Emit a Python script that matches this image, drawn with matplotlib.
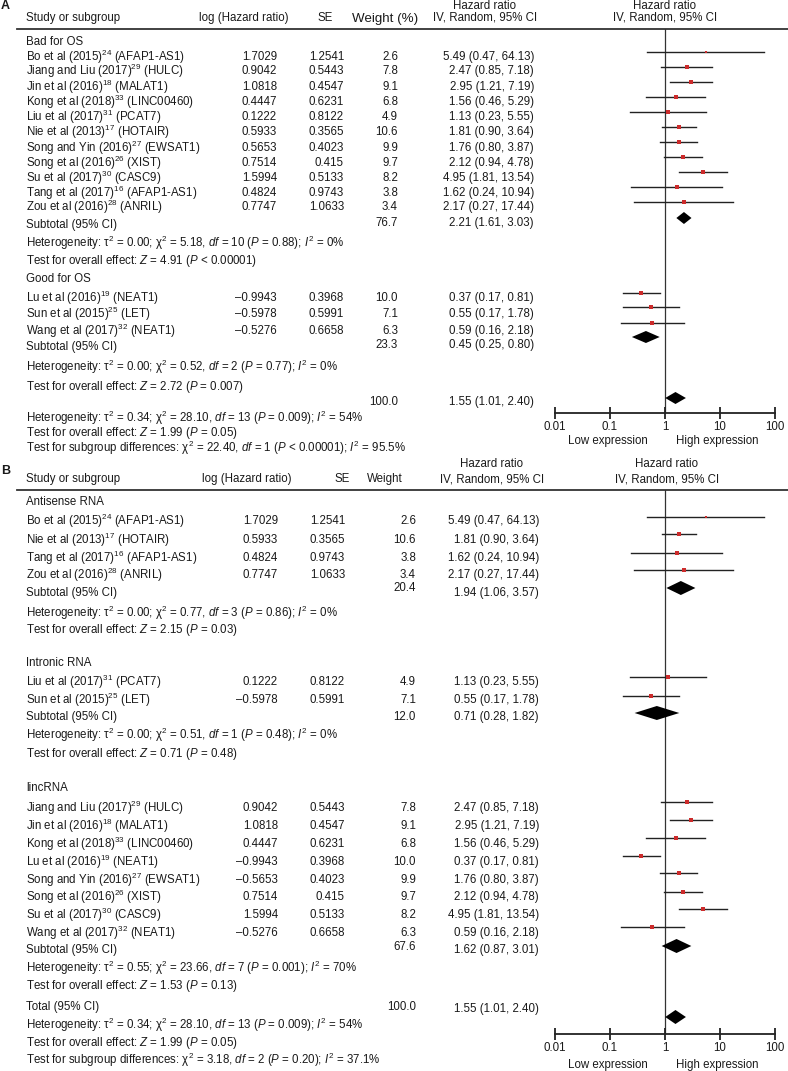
import matplotlib
matplotlib.use('Agg')
import matplotlib.pyplot as plt

plt.rcParams['font.family'] = ['Liberation Sans', 'DejaVu Sans']
plt.rcParams['mathtext.fontset'] = 'custom'
plt.rcParams['mathtext.rm'] = 'Liberation Sans'
plt.rcParams['mathtext.it'] = 'Liberation Sans:italic'
plt.rcParams['mathtext.bf'] = 'Liberation Sans:bold'

# ---------------- data ----------------
study_authors = ["Bo et al (2015)", "Jiang and Liu (2017)", "Jin et al (2016)", "Kong et al (2018)",
                 "Liu et al (2017)", "Nie et al (2013)", "Song and Yin (2016)", "Song et al (2016)",
                 "Su et al (2017)", "Tang et al (2017)", "Zou et al (2016)", "Lu et al (2016)",
                 "Sun et al (2015)", "Wang et al (2017)"]
study_refs = [24, 29, 18, 33, 31, 17, 27, 26, 30, 16, 28, 19, 25, 32]
study_genes = ["AFAP1-AS1", "HULC", "MALAT1", "LINC00460", "PCAT7", "HOTAIR", "EWSAT1", "XIST",
               "CASC9", "AFAP1-AS1", "ANRIL", "NEAT1", "LET", "NEAT1"]
study_loghr = [1.7029, 0.9042, 1.0818, 0.4447, 0.1222, 0.5933, 0.5653, 0.7514, 1.5994, 0.4824,
               0.7747, -0.9943, -0.5978, -0.5276]
b_study_loghr = [1.7029, 0.9042, 1.0818, 0.4447, 0.1222, 0.5933, -0.5653, 0.7514, 1.5994, 0.4824,
                 0.7747, -0.9943, -0.5978, -0.5276]
study_se = [1.2541, 0.5443, 0.4547, 0.6231, 0.8122, 0.3565, 0.4023, 0.415, 0.5133, 0.9743,
            1.0633, 0.3968, 0.5991, 0.6658]
study_weight = [2.6, 7.8, 9.1, 6.8, 4.9, 10.6, 9.9, 9.7, 8.2, 3.8, 3.4, 10.0, 7.1, 6.3]
study_hr = [5.49, 2.47, 2.95, 1.56, 1.13, 1.81, 1.76, 2.12, 4.95, 1.62, 2.17, 0.37, 0.55, 0.59]
study_lo = [0.47, 0.85, 1.21, 0.46, 0.23, 0.90, 0.80, 0.94, 1.81, 0.24, 0.27, 0.17, 0.17, 0.16]
study_hi = [64.13, 7.18, 7.19, 5.29, 5.55, 3.64, 3.87, 4.78, 13.54, 10.94, 17.44, 0.81, 1.78, 2.18]

# panel A groups
a_group_names = ["Bad for OS", "Good for OS"]
a_group_members = [[0, 1, 2, 3, 4, 5, 6, 7, 8, 9, 10], [11, 12, 13]]
a_sub_weight = [76.7, 23.3]
a_sub_hr = [2.21, 0.45]
a_sub_lo = [1.61, 0.25]
a_sub_hi = [3.03, 0.80]
a_sub_het = ["Heterogeneity: τ$^2$ = 0.00; χ$^2$ = 5.18, $df$ = 10 ($P$ = 0.88); $I^2$ = 0%",
             "Heterogeneity: τ$^2$ = 0.00; χ$^2$ = 0.52, $df$ = 2 ($P$ = 0.77); $I^2$ = 0%"]
a_sub_test = ["Test for overall effect: $Z$ = 4.91 ($P$ < 0.00001)",
              "Test for overall effect: $Z$ = 2.72 ($P$ = 0.007)"]
a_total_notes = ["Heterogeneity: τ$^2$ = 0.34; χ$^2$ = 28.10, $df$ = 13 ($P$ = 0.009); $I^2$ = 54%",
                 "Test for overall effect: $Z$ = 1.99 ($P$ = 0.05)",
                 "Test for subgroup differences: χ$^2$ = 22.40, $df$ = 1 ($P$ < 0.00001); $I^2$ = 95.5%"]

# panel B groups
b_group_names = ["Antisense RNA", "Intronic RNA", "lincRNA"]
b_group_members = [[0, 5, 9, 10], [4, 12], [1, 2, 3, 11, 6, 7, 8, 13]]
b_sub_weight = [20.4, 12.0, 67.6]
b_sub_hr = [1.94, 0.71, 1.62]
b_sub_lo = [1.06, 0.28, 0.87]
b_sub_hi = [3.57, 1.82, 3.01]
b_sub_het = ["Heterogeneity: τ$^2$ = 0.00; χ$^2$ = 0.77, $df$ = 3 ($P$ = 0.86); $I^2$ = 0%",
             "Heterogeneity: τ$^2$ = 0.00; χ$^2$ = 0.51, $df$ = 1 ($P$ = 0.48); $I^2$ = 0%",
             "Heterogeneity: τ$^2$ = 0.55; χ$^2$ = 23.66, $df$ = 7 ($P$ = 0.001); $I^2$ = 70%"]
b_sub_test = ["Test for overall effect: $Z$ = 2.15 ($P$ = 0.03)",
              "Test for overall effect: $Z$ = 0.71 ($P$ = 0.48)",
              "Test for overall effect: $Z$ = 1.53 ($P$ = 0.13)"]
b_total_notes = ["Heterogeneity: τ$^2$ = 0.34; χ$^2$ = 28.10, $df$ = 13 ($P$ = 0.009); $I^2$ = 54%",
                 "Test for overall effect: $Z$ = 1.99 ($P$ = 0.05)",
                 "Test for subgroup differences: χ$^2$ = 3.18, $df$ = 2 ($P$ = 0.20); $I^2$ = 37.1%"]

total_weight = 100.0
total_hr = 1.55
total_lo = 1.01
total_hi = 2.40

axis_ticks = [0.01, 0.1, 1, 10, 100]
axis_ticklabels = ["0.01", "0.1", "1", "10", "100"]

# ---------------- layout (pixels) ----------------
W, H = 788, 1071
fig = plt.figure(figsize=(W / 100, H / 100), dpi=100)
bg = fig.add_axes([0, 0, 1, 1])
bg.set_xlim(0, W)
bg.set_ylim(H, 0)
bg.axis('off')

FS = 8.3
TC = '#1a1a1a'
LC = '#222222'
MC = '#cc2b2b'


def txt(x, y, s, ha='left', **kw):
    opts = dict(fontsize=FS, color=TC, va='center', ha=ha)
    opts.update(kw)
    bg.text(x, y, s, **opts)


def study_label(i):
    return f"{study_authors[i]}$^{{{study_refs[i]}}}$ ({study_genes[i]})"


def fmt_num(v):
    return f"{v}".replace('-', '–')


def fmt_ci(h, lo, hi):
    return f"{h:.2f} ({lo:.2f}, {hi:.2f})"


def forest_axes(x0, x1, y0, y1):
    ax = fig.add_axes([x0 / W, 1 - y1 / H, (x1 - x0) / W, (y1 - y0) / H])
    ax.patch.set_alpha(0)
    ax.set_xscale('log')
    ax.set_xlim(0.01, 100)
    ax.set_ylim(y1, y0)
    for s in ('top', 'left', 'right'):
        ax.spines[s].set_visible(False)
    ax.spines['bottom'].set_linewidth(1.3)
    ax.spines['bottom'].set_color(LC)
    ax.set_yticks([])
    ax.set_xticks(axis_ticks)
    ax.set_xticklabels(axis_ticklabels, fontsize=FS, color=TC)
    ax.minorticks_off()
    ax.tick_params(axis='x', which='major', direction='inout', length=8, width=1.3,
                   color=LC, pad=2)
    ax.axvline(1, color='#333333', lw=0.9, zorder=1)
    return ax


def draw_study(ax, i, py):
    ax.plot([study_lo[i], study_hi[i]], [py, py], color=LC, lw=1.0, clip_on=False, zorder=2)
    ax.plot([study_hr[i]], [py], marker='s', color=MC, ms=1.6 + 0.18 * study_weight[i],
            mew=0, clip_on=False, zorder=3)


def draw_diamond(ax, h, lo, hi, py, half):
    ax.fill([lo, h, hi, h], [py, py - half, py, py + half], color='black', lw=0,
            clip_on=False, zorder=3)


# ================= Panel A =================
txt(1, 6, 'A', fontweight='bold', fontsize=9)
txt(26, 18, 'Study or subgroup')
txt(244, 18, 'log (Hazard ratio)', ha='center')
txt(325, 18, 'SE', ha='center')
txt(352, 19, 'Weight (%)', fontsize=9.6)
txt(485, 6, 'Hazard ratio', ha='center')
txt(485, 18, 'IV, Random, 95% CI', ha='center')
txt(665, 6, 'Hazard ratio', ha='center')
txt(665, 18, 'IV, Random, 95% CI', ha='center')
bg.plot([17, W], [29, 29], color='#333333', lw=1.3)

axA = forest_axes(555, 775, 29, 413)

a_group_label_y = [42, 279]
a_row_y = [[57, 71, 87, 102, 117, 132, 148, 163, 178, 193, 207], [298, 314, 331]]
a_plot_y = [[52, 67, 82, 97, 112, 127, 142, 157, 172, 187, 202], [293, 307, 323]]
a_sub_y = [225, 347]
a_sub_dy = [218, 337]
a_het_y = [243, 367]
a_test_y = [261, 387]

for g in range(2):
    txt(26, a_group_label_y[g], a_group_names[g])
    for k, i in enumerate(a_group_members[g]):
        y = a_row_y[g][k]
        txt(26, y, study_label(i))
        txt(277, y, fmt_num(study_loghr[i]), ha='right')
        txt(344, y, fmt_num(study_se[i]), ha='right')
        txt(398, y, f"{study_weight[i]:.1f}", ha='right')
        txt(534, y, fmt_ci(study_hr[i], study_lo[i], study_hi[i]), ha='right')
        draw_study(axA, i, a_plot_y[g][k])
    txt(26, a_sub_y[g], 'Subtotal (95% CI)')
    txt(398, a_sub_y[g] - 2, f"{a_sub_weight[g]:.1f}", ha='right')
    txt(534, a_sub_y[g] - 2, fmt_ci(a_sub_hr[g], a_sub_lo[g], a_sub_hi[g]), ha='right')
    draw_diamond(axA, a_sub_hr[g], a_sub_lo[g], a_sub_hi[g], a_sub_dy[g], 6)
    txt(26, a_het_y[g], a_sub_het[g])
    txt(26, a_test_y[g], a_sub_test[g])

txt(398, 402, f"{total_weight:.1f}", ha='right')
txt(534, 402, fmt_ci(total_hr, total_lo, total_hi), ha='right')
draw_diamond(axA, total_hr, total_lo, total_hi, 398, 6)
for k, yy in enumerate([418, 433, 448]):
    txt(26, yy, a_total_notes[k])
txt(608, 441, 'Low expression', ha='center')
txt(717, 441, 'High expression', ha='center')

# ================= Panel B =================
txt(1, 471, 'B', fontweight='bold', fontsize=9)
txt(26, 479, 'Study or subgroup')
txt(247, 479, 'log (Hazard ratio)', ha='center')
txt(342, 479, 'SE', ha='center')
txt(385, 479, 'Weight', ha='center')
txt(492, 464, 'Hazard ratio', ha='center')
txt(492, 479, 'IV, Random, 95% CI', ha='center')
txt(667, 464, 'Hazard ratio', ha='center')
txt(667, 479, 'IV, Random, 95% CI', ha='center')
bg.plot([17, W], [490, 490], color='#333333', lw=1.3)

axB = forest_axes(555, 775, 490, 1034)

b_group_label_y = [502, 663, 788]
b_row_y = [[521, 540, 558, 575], [682, 700], [808, 826, 844, 862, 880, 897, 915, 933]]
b_plot_y = [[517, 534, 553, 570], [677, 696], [802, 820, 838, 856, 873, 892, 909, 927]]
b_sub_y = [593, 717, 950]
b_sub_wy = [588, 717, 947]
b_sub_dy = [588, 713, 946]
b_het_y = [613, 735, 968]
b_test_y = [630, 754, 986]

for g in range(3):
    txt(26, b_group_label_y[g], b_group_names[g])
    for k, i in enumerate(b_group_members[g]):
        y = b_row_y[g][k]
        txt(26, y, study_label(i))
        txt(278, y, fmt_num(b_study_loghr[i]), ha='right')
        txt(345, y, fmt_num(study_se[i]), ha='right')
        txt(416, y, f"{study_weight[i]:.1f}", ha='right')
        txt(539, y, fmt_ci(study_hr[i], study_lo[i], study_hi[i]), ha='right')
        draw_study(axB, i, b_plot_y[g][k])
    txt(26, b_sub_y[g], 'Subtotal (95% CI)')
    txt(416, b_sub_wy[g], f"{b_sub_weight[g]:.1f}", ha='right')
    txt(539, b_sub_y[g], fmt_ci(b_sub_hr[g], b_sub_lo[g], b_sub_hi[g]), ha='right')
    draw_diamond(axB, b_sub_hr[g], b_sub_lo[g], b_sub_hi[g], b_sub_dy[g], 7)
    txt(26, b_het_y[g], b_sub_het[g])
    txt(26, b_test_y[g], b_sub_test[g])

txt(26, 1007, 'Total (95% CI)')
txt(416, 1007, f"{total_weight:.1f}", ha='right')
txt(539, 1009, fmt_ci(total_hr, total_lo, total_hi), ha='right')
draw_diamond(axB, total_hr, total_lo, total_hi, 1017, 7)
for k, yy in enumerate([1025, 1043, 1060]):
    txt(26, yy, b_total_notes[k])
txt(608, 1065, 'Low expression', ha='center')
txt(717, 1065, 'High expression', ha='center')

fig.savefig('out.png', dpi=100)
